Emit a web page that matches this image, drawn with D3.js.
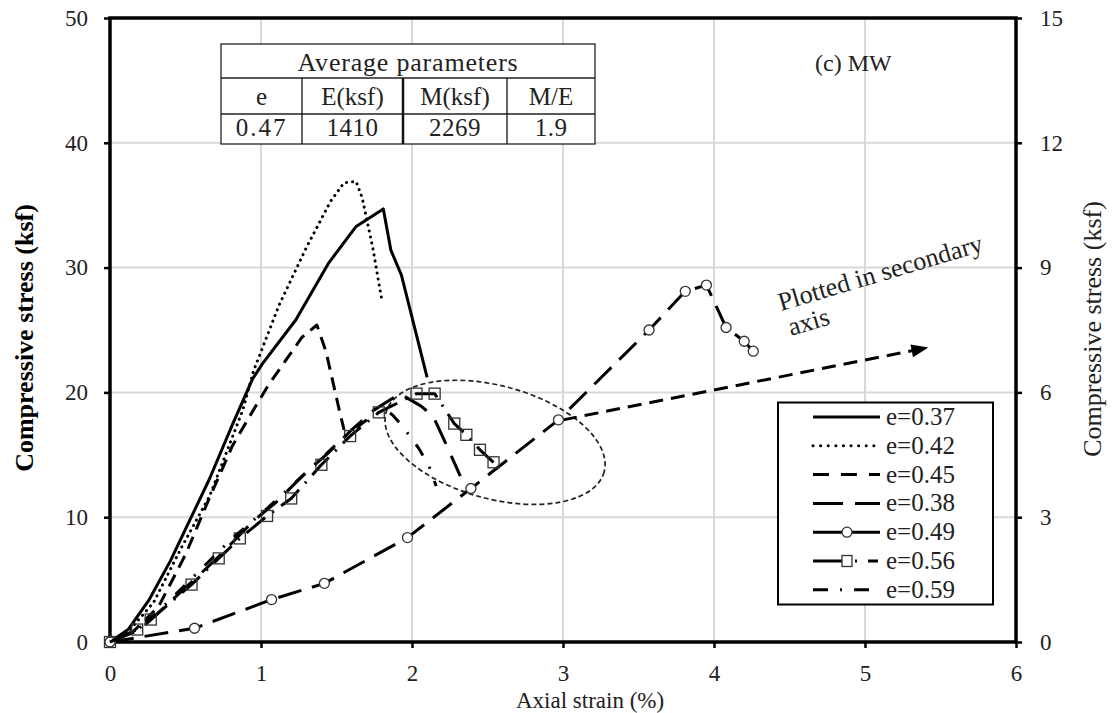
<!DOCTYPE html>
<html>
<head>
<meta charset="utf-8">
<script src="https://cdn.jsdelivr.net/npm/d3@7"></script>
<style>
html,body{margin:0;padding:0;background:#fff;}
svg{display:block;}
</style>
</head>
<body>
<svg id="chart" width="1112" height="713"></svg>
<script>
// ---------- data ----------
const xTicks = [0, 1, 2, 3, 4, 5, 6];
const yTicks = [0, 10, 20, 30, 40, 50];
const y2Ticks = [0, 3, 6, 9, 12, 15];

const e037x = [0, 0.12, 0.26, 0.40, 0.53, 0.66, 0.81, 0.945, 1.01, 1.23, 1.45, 1.63, 1.81, 1.86, 1.93, 2.10];
const e037y = [0, 1.0, 3.4, 6.5, 9.8, 13.1, 17.4, 21.1, 22.3, 25.8, 30.4, 33.3, 34.7, 31.4, 29.4, 21.2];

const e042x = [0, 0.12, 0.29, 0.47, 0.66, 0.88, 0.95, 1.12, 1.30, 1.46, 1.55, 1.63, 1.67, 1.74, 1.80];
const e042y = [0, 0.8, 3.2, 7.5, 11.7, 18.6, 21.7, 27.0, 31.6, 35.3, 36.8, 36.9, 35.6, 31.6, 27.4];

const e045x = [0, 0.15, 0.32, 0.50, 0.65, 0.81, 0.95, 1.05, 1.16, 1.27, 1.37, 1.43, 1.52, 1.55];
const e045y = [0, 0.8, 2.8, 7.0, 11.3, 15.7, 18.6, 20.6, 22.5, 24.4, 25.4, 23.3, 18.5, 17.0];

const e038x = [0, 0.20, 0.45, 0.70, 0.95, 1.10, 1.30, 1.45, 1.60, 1.75, 1.92, 2.06, 2.14, 2.22, 2.32];
const e038y = [0, 1.0, 3.8, 6.6, 9.7, 11.2, 13.6, 15.2, 17.0, 18.6, 19.9, 18.9, 18.1, 16.0, 13.3];

// e=0.49 is plotted on the secondary axis (0-15 ksf)
const e049x = [0, 0.56, 1.07, 1.42, 1.97, 2.39, 2.97, 3.57, 3.81, 3.95, 4.08, 4.20, 4.26];
const e049y = [0, 0.33, 1.02, 1.41, 2.51, 3.69, 5.34, 7.50, 8.43, 8.58, 7.56, 7.23, 6.99];

const e056x = [0, 0.18, 0.27, 0.54, 0.72, 0.86, 1.04, 1.20, 1.40, 1.59, 1.78, 2.03, 2.15, 2.28, 2.36, 2.45, 2.54];
const e056y = [0, 1.0, 1.8, 4.6, 6.7, 8.3, 10.1, 11.5, 14.2, 16.5, 18.4, 19.9, 19.9, 17.5, 16.6, 15.4, 14.4];

const e059x = [0, 0.15, 0.30, 0.55, 0.80, 1.05, 1.30, 1.55, 1.70, 1.82, 1.87, 1.93, 2.04, 2.11, 2.16];
const e059y = [0, 0.8, 2.2, 5.2, 8.2, 10.8, 13.6, 16.4, 17.8, 18.7, 18.2, 17.4, 15.6, 14.2, 12.5];

const tableHeader = ["e", "E(ksf)", "M(ksf)", "M/E"];
const tableValues = ["0.47", "1410", "2269", "1.9"];

// ---------- layout ----------
const FONT = "'Liberation Serif', 'Times New Roman', Tinos, 'DejaVu Serif', 'Noto Serif', serif";
const svg = d3.select("#chart").attr("font-family", FONT);
const L = 110, R = 1016, T = 18, B = 642;
const x = d3.scaleLinear().domain([0, 6]).range([L, R]);
const y = d3.scaleLinear().domain([0, 50]).range([B, T]);
const y2 = d3.scaleLinear().domain([0, 15]).range([B, T]);

const series = [
  {name: "e=0.37", xs: e037x, ys: e037y, sc: y,  dash: null,          ldash: null,            cap: "butt"},
  {name: "e=0.42", xs: e042x, ys: e042y, sc: y,  dash: "0.1 6",       ldash: "0.1 7.5",       cap: "round"},
  {name: "e=0.45", xs: e045x, ys: e045y, sc: y,  dash: "13 8",        ldash: "16 12",         cap: "butt"},
  {name: "e=0.38", xs: e038x, ys: e038y, sc: y,  dash: "26 13",       ldash: "30 12",         cap: "butt"},
  {name: "e=0.49", xs: e049x, ys: e049y, sc: y2, dash: "24 11",       ldash: null,            cap: "butt", marker: "circle"},
  {name: "e=0.56", xs: e056x, ys: e056y, sc: y,  dash: "24 9 2 9",    ldash: "29 13 2 11 10", cap: "butt", marker: "square"},
  {name: "e=0.59", xs: e059x, ys: e059y, sc: y,  dash: "13 13 2 13",  ldash: "15 12 2 12 15", cap: "butt"}
];

// ---------- grid ----------
const grid = svg.append("g");
grid.selectAll("line.gx").data(xTicks.slice(1, -1)).join("line")
  .attr("x1", d => x(d)).attr("x2", d => x(d)).attr("y1", T).attr("y2", B)
  .attr("stroke", "#d9d9d9").attr("stroke-width", 2);
grid.selectAll("line.gy").data(yTicks.slice(1, -1)).join("line")
  .attr("x1", L).attr("x2", R).attr("y1", d => y(d)).attr("y2", d => y(d))
  .attr("stroke", "#d9d9d9").attr("stroke-width", 2);

// ---------- axes ----------
const fontTick = 23;
const axL = svg.append("g").attr("transform", `translate(${L},0)`)
  .call(d3.axisLeft(y).tickValues(yTicks).tickSize(6).tickPadding(16).tickFormat(d3.format("d")));
const axR = svg.append("g").attr("transform", `translate(${R},0)`)
  .call(d3.axisRight(y2).tickValues(y2Ticks).tickSize(6).tickPadding(18).tickFormat(d3.format("d")));
const axB = svg.append("g").attr("transform", `translate(0,${B})`)
  .call(d3.axisBottom(x).tickValues(xTicks).tickSize(6).tickPadding(17).tickFormat(d3.format("d")));
[axL, axR, axB].forEach(a => {
  a.attr("font-family", FONT);
  a.select(".domain").remove();
  a.selectAll(".tick line").attr("stroke", "#000").attr("stroke-width", 2.5);
  a.selectAll(".tick text").attr("font-size", fontTick).attr("fill", "#222");
});

// frame
svg.append("rect").attr("x", L).attr("y", T).attr("width", R - L).attr("height", B - T)
  .attr("fill", "none").attr("stroke", "#000").attr("stroke-width", 3.5);

// axis titles
svg.append("text").attr("transform", `translate(33,338) rotate(-90)`)
  .attr("text-anchor", "middle").attr("font-size", 26).attr("font-weight", "bold")
  .text("Compressive  stress (ksf)");
svg.append("text").attr("transform", `translate(1101,329) rotate(-90)`)
  .attr("text-anchor", "middle").attr("font-size", 26).attr("fill", "#222")
  .text("Compressive stress (ksf)");
svg.append("text").attr("x", 516).attr("y", 708)
  .attr("text-anchor", "start").attr("font-size", 23).attr("fill", "#222")
  .text("Axial strain (%)");

// ---------- annotations (ellipse + arrow) ----------
const ellC = {x: 2.55, y: 16.0};
svg.append("ellipse")
  .attr("transform", `translate(${x(ellC.x)},${y(ellC.y)}) rotate(15.2)`)
  .attr("rx", 113).attr("ry", 56.5)
  .attr("fill", "none").attr("stroke", "#222").attr("stroke-width", 1.7)
  .attr("stroke-dasharray", "5 3");

const arrowFrom = {x: 3.0, y: 17.8}, arrowTo = {x: 5.42, y: 23.6};
const ax0 = x(arrowFrom.x), ay0 = y(arrowFrom.y), ax1 = x(arrowTo.x), ay1 = y(arrowTo.y);
const ang = Math.atan2(ay1 - ay0, ax1 - ax0);
const headLen = 17, headW = 6.5;
const bx = ax1 - headLen * Math.cos(ang), by = ay1 - headLen * Math.sin(ang);
svg.append("line").attr("x1", ax0).attr("y1", ay0).attr("x2", bx + 2 * Math.cos(ang)).attr("y2", by + 2 * Math.sin(ang))
  .attr("stroke", "#000").attr("stroke-width", 3).attr("stroke-dasharray", "14 8");
svg.append("path")
  .attr("d", `M${ax1},${ay1} L${bx - headW * Math.sin(ang)},${by + headW * Math.cos(ang)} L${bx + headW * Math.sin(ang)},${by - headW * Math.cos(ang)} Z`)
  .attr("fill", "#000");

svg.append("text").attr("transform", "translate(781,311) rotate(-16.5)")
  .attr("font-size", 26).attr("fill", "#222").text("Plotted in secondary");
svg.append("text").attr("transform", "translate(791,336) rotate(-16.5)")
  .attr("font-size", 26).attr("fill", "#222").text("axis");

// ---------- series ----------
const line = sc => d3.line().x(d => x(d[0])).y(d => sc(d[1]));
const plot = svg.append("g");
series.forEach(s => {
  const pts = s.xs.map((v, i) => [v, s.ys[i]]);
  plot.append("path").datum(pts)
    .attr("d", line(s.sc))
    .attr("fill", "none").attr("stroke", "#000")
    .attr("stroke-width", 3).attr("stroke-linecap", s.cap).attr("stroke-linejoin", "round")
    .attr("stroke-dasharray", s.dash);
  if (s.marker === "circle") {
    plot.selectAll(null).data(pts).join("circle")
      .attr("cx", d => x(d[0])).attr("cy", d => s.sc(d[1])).attr("r", 5)
      .attr("fill", "#fff").attr("stroke", "#333").attr("stroke-width", 1.3);
  } else if (s.marker === "square") {
    plot.selectAll(null).data(pts).join("rect")
      .attr("x", d => x(d[0]) - 5.5).attr("y", d => s.sc(d[1]) - 5.5)
      .attr("width", 11).attr("height", 11)
      .attr("fill", "none").attr("stroke", "#333").attr("stroke-width", 1.3);
  }
});

// ---------- table ----------
const colX = [221, 302, 403, 507, 595];
const rowY = [44, 78, 114, 144];
const tb = svg.append("g");
tb.append("rect").attr("x", colX[0]).attr("y", rowY[0]).attr("width", colX[4] - colX[0])
  .attr("height", rowY[3] - rowY[0]).attr("fill", "#fff").attr("stroke", "#222").attr("stroke-width", 1.3);
[rowY[1], rowY[2]].forEach(yy => tb.append("line").attr("x1", colX[0]).attr("x2", colX[4])
  .attr("y1", yy).attr("y2", yy).attr("stroke", "#222").attr("stroke-width", 1.3));
[1, 2, 3].forEach(i => tb.append("line").attr("x1", colX[i]).attr("x2", colX[i])
  .attr("y1", rowY[1]).attr("y2", rowY[3]).attr("stroke", "#111").attr("stroke-width", i === 2 ? 2.5 : 1.3));
tb.append("text").attr("x", (colX[0] + colX[4]) / 2).attr("y", rowY[0] + 27)
  .attr("text-anchor", "middle").attr("font-size", 26).attr("letter-spacing", 0.8).attr("fill", "#222")
  .text("Average parameters");
tableHeader.forEach((t, i) => tb.append("text").attr("x", (colX[i] + colX[i + 1]) / 2).attr("y", rowY[1] + 27)
  .attr("text-anchor", "middle").attr("font-size", 25).attr("fill", "#222").text(t));
tableValues.forEach((t, i) => tb.append("text").attr("x", (colX[i] + colX[i + 1]) / 2).attr("y", rowY[2] + 22)
  .attr("text-anchor", "middle").attr("font-size", 25).attr("fill", "#222")
  .attr("letter-spacing", i === 0 ? 2 : 0.5).text(t));

svg.append("text").attr("x", 815).attr("y", 71).attr("font-size", 24).attr("fill", "#222").text("(c) MW");

// ---------- legend ----------
const lg = svg.append("g");
lg.append("rect").attr("x", 778).attr("y", 402.5).attr("width", 215).attr("height", 202)
  .attr("fill", "#fff").attr("stroke", "#000").attr("stroke-width", 2);
series.forEach((s, i) => {
  const yy = 417 + i * 28.8;
  lg.append("line").attr("x1", 813).attr("x2", s.name === "e=0.59" ? 870 : 880).attr("y1", yy).attr("y2", yy)
    .attr("stroke", "#000").attr("stroke-width", 3).attr("stroke-linecap", s.cap)
    .attr("stroke-dasharray", s.ldash);
  if (s.marker === "circle") {
    lg.append("circle").attr("cx", 847).attr("cy", yy).attr("r", 5)
      .attr("fill", "#fff").attr("stroke", "#333").attr("stroke-width", 1.3);
  } else if (s.marker === "square") {
    lg.append("rect").attr("x", 842).attr("y", yy - 5.5).attr("width", 10).attr("height", 11)
      .attr("fill", "#fff").attr("stroke", "#333").attr("stroke-width", 1.3);
  }
  lg.append("text").attr("x", 886).attr("y", yy + 8).attr("font-size", 25).attr("fill", "#222").text(s.name);
});
</script>
</body>
</html>
